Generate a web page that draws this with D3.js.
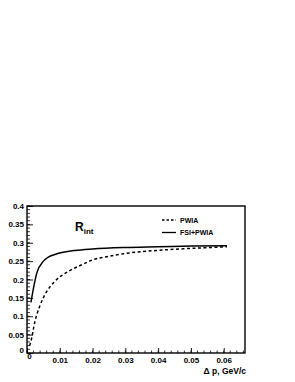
<!DOCTYPE html>
<html>
<head>
<meta charset="utf-8">
<script src="https://cdn.jsdelivr.net/npm/d3@7"></script>
<style>
  body { margin: 0; background: #fff; }
  svg { display: block; }
  text { font-family: "Liberation Sans", Arial, sans-serif; font-weight: bold; fill: #000; }
</style>
</head>
<body>
<div id="chart"></div>
<script>
// FSI+PWIA (solid) and PWIA (dashed), R_int vs delta p
var xSolid = [0.0012, 0.003, 0.005, 0.0065, 0.0085, 0.011, 0.0146, 0.02, 0.03, 0.04, 0.05, 0.061];
var ySolid = [0.138, 0.218, 0.25, 0.261, 0.268, 0.274, 0.279, 0.283, 0.287, 0.289, 0.291, 0.292];
var xDash = [0.0008, 0.0012, 0.0024, 0.004, 0.006, 0.0085, 0.0126, 0.0167, 0.0202, 0.025, 0.0294, 0.0395, 0.0497, 0.061];
var yDash = [0.02, 0.032, 0.085, 0.13, 0.167, 0.195, 0.222, 0.24, 0.254, 0.263, 0.27, 0.279, 0.2845, 0.289];
var xTicks = [0, 0.01, 0.02, 0.03, 0.04, 0.05, 0.06];
var yTicks = [0, 0.05, 0.1, 0.15, 0.2, 0.25, 0.3, 0.35, 0.4];
var seriesNames = ["PWIA", "FSI+PWIA"];

var width = 295, height = 382;
var mLeft = 27, mRight = 245, mTop = 206, mBottom = 353;

var svg = d3.select("#chart").append("svg")
  .attr("width", width).attr("height", height);

var x = d3.scaleLinear().domain([0, 0.0665]).range([mLeft, mRight]);
var y = d3.scaleLinear().domain([0, 0.4]).range([mBottom, mTop]);

// minor ticks
var xMinor = d3.range(0, 0.0665, 0.002);
var yMinor = d3.range(0, 0.4001, 0.01);

svg.append("g")
  .attr("transform", "translate(0," + mBottom + ")")
  .selectAll("line").data(xMinor).enter().append("line")
  .attr("x1", d => x(d)).attr("x2", d => x(d))
  .attr("y1", 0).attr("y2", -2.5)
  .attr("stroke", "#000").attr("stroke-width", 0.8);

svg.append("g")
  .attr("transform", "translate(" + mLeft + ",0)")
  .selectAll("line").data(yMinor).enter().append("line")
  .attr("x1", 0).attr("x2", 3)
  .attr("y1", d => y(d)).attr("y2", d => y(d))
  .attr("stroke", "#000").attr("stroke-width", 0.8);

var xAxis = svg.append("g")
  .attr("transform", "translate(0," + mBottom + ")")
  .call(d3.axisBottom(x).tickValues(xTicks).tickSize(-5).tickPadding(4)
    .tickFormat(d => d === 0 ? "0" : d3.format(".2f")(d)));
var yAxis = svg.append("g")
  .attr("transform", "translate(" + mLeft + ",0)")
  .call(d3.axisLeft(y).tickValues(yTicks).tickSize(-6).tickPadding(3)
    .tickFormat(d => d === 0 ? "0" : String(+d.toFixed(2))));

[xAxis, yAxis].forEach(function(g) {
  g.select(".domain").remove();
  g.selectAll("line").attr("stroke-width", 0.9);
  g.selectAll("text").style("font-size", "8px").style("font-family", "Liberation Sans, Arial, sans-serif").style("font-weight", "bold");
});
xAxis.selectAll("text").filter(d => d === 0).attr("dx", 2).attr("dy", "0.2em");
yAxis.selectAll("text").filter(d => d === 0).attr("dy", "-0.1em");

// frame
svg.append("rect")
  .attr("x", mLeft).attr("y", mTop)
  .attr("width", mRight - mLeft).attr("height", mBottom - mTop)
  .attr("fill", "none").attr("stroke", "#000").attr("stroke-width", 1.4);

var line = d3.line().x(d => x(d[0])).y(d => y(d[1])).curve(d3.curveMonotoneX);

svg.append("path")
  .datum(d3.zip(xDash, yDash))
  .attr("d", line)
  .attr("fill", "none").attr("stroke", "#000").attr("stroke-width", 1.5)
  .attr("stroke-dasharray", "3,2.5");

svg.append("path")
  .datum(d3.zip(xSolid, ySolid))
  .attr("d", line)
  .attr("fill", "none").attr("stroke", "#000").attr("stroke-width", 1.5);

// legend
var legend = svg.append("g");
seriesNames.forEach(function(name, i) {
  var ly = 220 + i * 12.5;
  legend.append("line")
    .attr("x1", 162).attr("x2", 176).attr("y1", ly).attr("y2", ly)
    .attr("stroke", "#000").attr("stroke-width", 1.3)
    .attr("stroke-dasharray", i === 0 ? "2.5,2" : null);
  legend.append("text")
    .attr("x", 180).attr("y", ly + 2.5)
    .style("font-size", "7px")
    .text(name);
});

// R_int label
var rl = svg.append("text").attr("x", 75).attr("y", 230.5).style("font-size", "12px");
rl.append("tspan").text("R");
rl.append("tspan").attr("dy", 3).style("font-size", "8px").text("int");

// x axis title
svg.append("text")
  .attr("x", 246).attr("y", 374)
  .attr("text-anchor", "end")
  .style("font-size", "8.5px")
  .text("\u0394 p, GeV/c");
</script>
</body>
</html>
